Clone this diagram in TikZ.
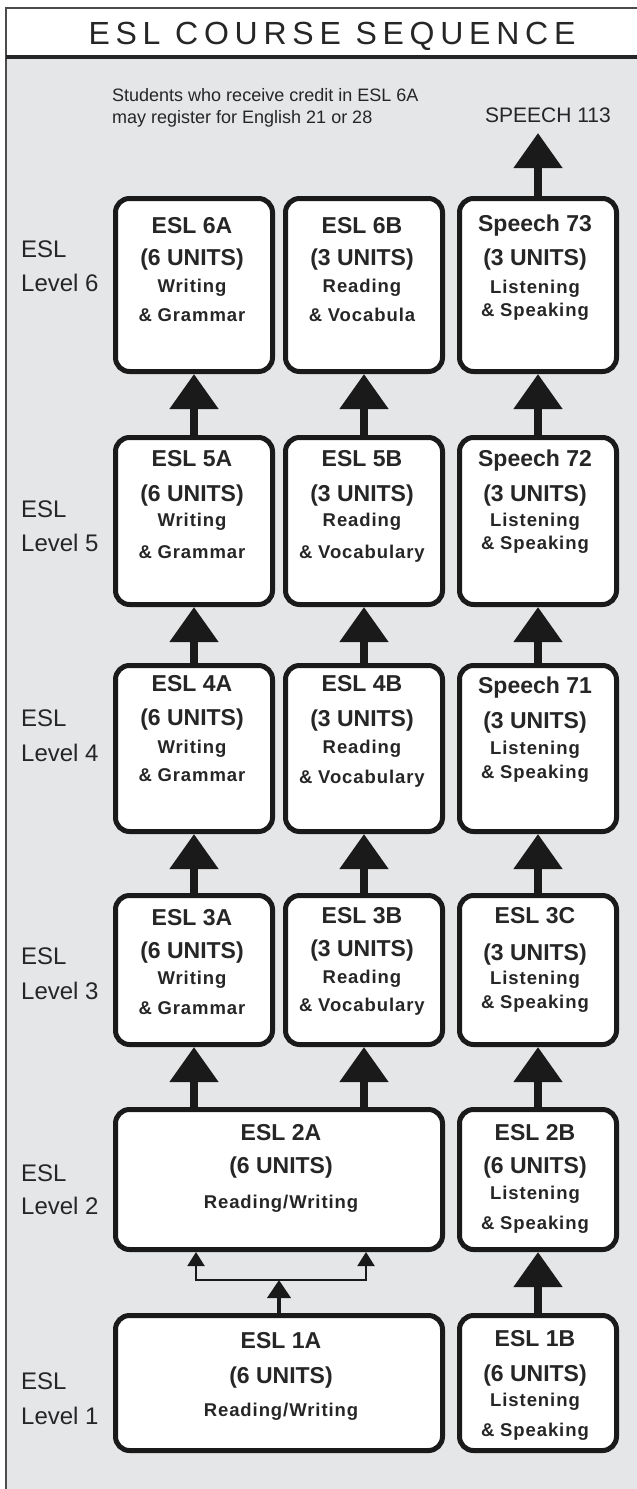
\documentclass[tikz,border=0pt]{standalone}
\usepackage{fontspec}
\setmainfont{Liberation Sans}
\newfontfamily\titlefont[LetterSpace=18]{Liberation Sans}
\newfontfamily\subfont[LetterSpace=5]{Liberation Sans}
\usetikzlibrary{arrows.meta}
\definecolor{bggray}{HTML}{E5E6E8}
\definecolor{ink}{HTML}{262626}
\definecolor{edge}{HTML}{1A1A1A}
\begin{document}
\begin{tikzpicture}[x=1pt,y=-1pt,
  course/.style={draw=edge, line width=5pt, rounded corners=14pt, fill=white, inner sep=0pt, minimum width=157pt},
  hd/.style={anchor=base, text=ink, font=\fontsize{23}{23}\selectfont\bfseries, inner sep=0pt},
  sb/.style={anchor=base, text=ink, font=\subfont\fontsize{18.5}{18.5}\selectfont\bfseries, inner sep=0pt},
  lvl/.style={anchor=base west, text=ink, font=\fontsize{24}{24}\selectfont, inner sep=0pt},
  bigarrow/.style={draw=edge, line width=8pt, -{Triangle[width=47pt,length=35pt]}},
  smallarrow/.style={draw=edge, line width=2pt, -{Triangle[width=17pt,length=14pt]}},
  midarrow/.style={draw=edge, line width=4pt, -{Triangle[width=23pt,length=18pt]}}
]
% frame
\path[use as bounding box] (0,0) rectangle (637,1489);
\fill[bggray] (6,57) rectangle (645,1495);
\fill[white] (6,8) rectangle (645,57);
\draw[line width=1.5pt, draw=black!70] (645,8) -- (6,8) -- (6,1495);
\draw[line width=3.5pt, draw=black!85] (6,57) -- (645,57);

\node[anchor=base, font=\titlefont\fontsize{32}{32}\selectfont, text=ink, inner sep=0pt] (title) at (332,44.5) {ESL COURSE SEQUENCE};

\node[anchor=base west, font=\fontsize{18}{18}\selectfont, text=ink, inner sep=0pt] (note1) at (112,101) {Students who receive credit in ESL 6A};
\node[anchor=base west, font=\fontsize{18}{18}\selectfont, text=ink, inner sep=0pt] (note2) at (112,123) {may register for English 21 or 28};
\node[anchor=base, font=\fontsize{21}{21}\selectfont, text=ink, inner sep=0pt] (sp113) at (548,122.5) {SPEECH 113};
\coordinate (t113) at (538,133);

% level labels
\node[lvl] (l6a) at (21,257) {ESL};   \node[lvl] (l6b) at (21,291) {Level 6};
\node[lvl] (l5a) at (21,517) {ESL};   \node[lvl] (l5b) at (21,551) {Level 5};
\node[lvl] (l4a) at (21,726) {ESL};   \node[lvl] (l4b) at (21,761) {Level 4};
\node[lvl] (l3a) at (21,964) {ESL};   \node[lvl] (l3b) at (21,999) {Level 3};
\node[lvl] (l2a) at (21,1181) {ESL};  \node[lvl] (l2b) at (21,1214) {Level 2};
\node[lvl] (l1a) at (21,1389) {ESL};  \node[lvl] (l1b) at (21,1424) {Level 1};

% boxes
\node[course, minimum height=173pt] (b6a) at (194,285) {};
\node[course, minimum height=173pt] (b6b) at (364,285) {};
\node[course, minimum height=173pt] (b6c) at (538,285) {};
\node[course, minimum height=167pt] (b5a) at (194,521) {};
\node[course, minimum height=167pt] (b5b) at (364,521) {};
\node[course, minimum height=167pt] (b5c) at (538,521) {};
\node[course, minimum height=166pt] (b4a) at (194,748.5) {};
\node[course, minimum height=166pt] (b4b) at (364,748.5) {};
\node[course, minimum height=166pt] (b4c) at (538,748.5) {};
\node[course, minimum height=149pt] (b3a) at (194,970) {};
\node[course, minimum height=149pt] (b3b) at (364,970) {};
\node[course, minimum height=149pt] (b3c) at (538,970) {};
\node[course, minimum height=140pt, minimum width=327pt] (b2a) at (279,1179.5) {};
\node[course, minimum height=140pt] (b2b) at (538,1179.5) {};
\node[course, minimum height=135pt, minimum width=327pt] (b1a) at (279,1383) {};
\node[course, minimum height=135pt] (b1b) at (538,1383) {};

% row 6 texts
\node[hd] (x6a1) at (192,233) {ESL 6A};
\node[hd] (x6a2) at (192,265) {(6 UNITS)};
\node[sb] (x6a3) at (192,292) {Writing};
\node[sb] (x6a4) at (192,321) {\&\hspace{0.3em}Grammar};
\node[hd] (x6b1) at (362,233) {ESL 6B};
\node[hd] (x6b2) at (362,265) {(3 UNITS)};
\node[sb] (x6b3) at (362,292) {Reading};
\node[sb] (x6b4) at (362,321) {\&\hspace{0.3em}Vocabula};
\node[hd] (x6c1) at (535,231) {Speech 73};
\node[hd] (x6c2) at (535,265) {(3 UNITS)};
\node[sb] (x6c3) at (535,293) {Listening};
\node[sb] (x6c4) at (535,316) {\&\hspace{0.3em}Speaking};
% row 5
\node[hd] (x5a1) at (192,466) {ESL 5A};
\node[hd] (x5a2) at (192,501) {(6 UNITS)};
\node[sb] (x5a3) at (192,526) {Writing};
\node[sb] (x5a4) at (192,558) {\&\hspace{0.3em}Grammar};
\node[hd] (x5b1) at (362,466) {ESL 5B};
\node[hd] (x5b2) at (362,501) {(3 UNITS)};
\node[sb] (x5b3) at (362,526) {Reading};
\node[sb] (x5b4) at (362,558) {\&\hspace{0.3em}Vocabulary};
\node[hd] (x5c1) at (535,466) {Speech 72};
\node[hd] (x5c2) at (535,501) {(3 UNITS)};
\node[sb] (x5c3) at (535,526) {Listening};
\node[sb] (x5c4) at (535,549) {\&\hspace{0.3em}Speaking};
% row 4
\node[hd] (x4a1) at (192,691) {ESL 4A};
\node[hd] (x4a2) at (192,725) {(6 UNITS)};
\node[sb] (x4a3) at (192,753) {Writing};
\node[sb] (x4a4) at (192,781) {\&\hspace{0.3em}Grammar};
\node[hd] (x4b1) at (362,691) {ESL 4B};
\node[hd] (x4b2) at (362,726) {(3 UNITS)};
\node[sb] (x4b3) at (362,753) {Reading};
\node[sb] (x4b4) at (362,783) {\&\hspace{0.3em}Vocabulary};
\node[hd] (x4c1) at (535,693) {Speech 71};
\node[hd] (x4c2) at (535,728) {(3 UNITS)};
\node[sb] (x4c3) at (535,754) {Listening};
\node[sb] (x4c4) at (535,778) {\&\hspace{0.3em}Speaking};
% row 3
\node[hd] (x3a1) at (192,925) {ESL 3A};
\node[hd] (x3a2) at (192,958) {(6 UNITS)};
\node[sb] (x3a3) at (192,984) {Writing};
\node[sb] (x3a4) at (192,1014) {\&\hspace{0.3em}Grammar};
\node[hd] (x3b1) at (362,923) {ESL 3B};
\node[hd] (x3b2) at (362,956) {(3 UNITS)};
\node[sb] (x3b3) at (362,983) {Reading};
\node[sb] (x3b4) at (362,1011) {\&\hspace{0.3em}Vocabulary};
\node[hd] (x3c1) at (535,923) {ESL 3C};
\node[hd] (x3c2) at (535,960) {(3 UNITS)};
\node[sb] (x3c3) at (535,984) {Listening};
\node[sb] (x3c4) at (535,1008) {\&\hspace{0.3em}Speaking};
% row 2
\node[hd] (x2a1) at (281,1140) {ESL 2A};
\node[hd] (x2a2) at (281,1173) {(6 UNITS)};
\node[sb] (x2a3) at (281,1208) {Reading/Writing};
\node[hd] (x2b1) at (535,1140) {ESL 2B};
\node[hd] (x2b2) at (535,1173) {(6 UNITS)};
\node[sb] (x2b3) at (535,1199) {Listening};
\node[sb] (x2b4) at (535,1229) {\&\hspace{0.3em}Speaking};
% row 1
\node[hd] (x1a1) at (281,1348) {ESL 1A};
\node[hd] (x1a2) at (281,1383) {(6 UNITS)};
\node[sb] (x1a3) at (281,1416) {Reading/Writing};
\node[hd] (x1b1) at (535,1346) {ESL 1B};
\node[hd] (x1b2) at (535,1381) {(6 UNITS)};
\node[sb] (x1b3) at (535,1406) {Listening};
\node[sb] (x1b4) at (535,1436) {\&\hspace{0.3em}Speaking};

% arrows
\draw[bigarrow] (b6c.north) -- (t113);
\draw[bigarrow] (b5a.north) -- (b6a.south);
\draw[bigarrow] (b5b.north) -- (b6b.south);
\draw[bigarrow] (b5c.north) -- (b6c.south);
\draw[bigarrow] (b4a.north) -- (b5a.south);
\draw[bigarrow] (b4b.north) -- (b5b.south);
\draw[bigarrow] (b4c.north) -- (b5c.south);
\draw[bigarrow] (b3a.north) -- (b4a.south);
\draw[bigarrow] (b3b.north) -- (b4b.south);
\draw[bigarrow] (b3c.north) -- (b4c.south);
\draw[bigarrow] (b2a.north -| b3a.south) -- (b3a.south);
\draw[bigarrow] (b2a.north -| b3b.south) -- (b3b.south);
\draw[bigarrow] (b2b.north) -- (b3c.south);
\draw[bigarrow] (b1b.north) -- (b2b.south);

\coordinate (jl) at (196,1280);
\coordinate (jr) at (366,1280);
\coordinate (jm) at (279,1280);
\draw[draw=edge, line width=2.5pt, line cap=rect] (jl) -- (jr);
\draw[smallarrow] (jl) -- (jl |- b2a.south);
\draw[smallarrow] (jr) -- (jr |- b2a.south);
\draw[midarrow] (b1a.north) -- (jm);
\end{tikzpicture}
\end{document}
